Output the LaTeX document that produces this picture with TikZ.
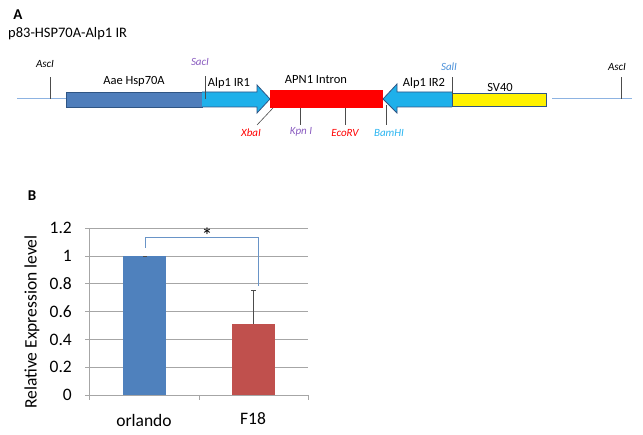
\documentclass[tikz,border=0pt]{standalone}
\usepackage{fontspec}
\setmainfont{Carlito}
\usepackage{xcolor}
\usepackage{tikz}
\usetikzlibrary{positioning}

\definecolor{hspblue}{HTML}{4F7EBB}
\definecolor{irblue}{HTML}{1EB0EA}
\definecolor{edgeblue}{HTML}{2F5584}
\definecolor{backbone}{HTML}{8DB3E2}
\definecolor{sitepurple}{HTML}{8A5CC0}
\definecolor{siteblue}{HTML}{4A90D9}
\definecolor{sitecyan}{HTML}{2BB5F0}
\definecolor{barblue}{HTML}{4F81BD}
\definecolor{barred}{HTML}{C0504D}
\definecolor{gridgrey}{HTML}{A6A6A6}

\tikzset{
  lbl/.style={inner sep=0pt,font=\fontsize{12.5}{13}\selectfont},
  site/.style={inner sep=0pt,font=\fontsize{11}{12}\selectfont\itshape},
  cut/.style={draw=black!70,line width=0.6pt},
  tlbl/.style={inner sep=0pt,font=\fontsize{17.5}{18}\selectfont}
}

\begin{document}
\begin{tikzpicture}[x=1pt,y=-1pt]
    \useasboundingbox (0,0) rectangle (643,435);

    % panel A
    \node[inner sep=0pt,font=\fontsize{15}{16}\selectfont\bfseries] (labA) at (18,15) {A};
    \node[inner sep=0pt,anchor=west,font=\fontsize{14.5}{16}\selectfont] (title) at (8,34) {p83-HSP70A-Alp1 IR};

    \draw[backbone,line width=1pt] (17,99)--(66,99);
    \draw[backbone,line width=1pt] (552,99)--(632,99);

    \fill[hspblue] (66,92) rectangle (202,107);
    \draw[edgeblue,line width=0.8pt] (66,92) rectangle (202,107);

    \fill[irblue] (202,92)--(257,92)--(257,85)--(270,99)--(257,113)--(257,107)--(202,107)--cycle;
    \draw[edgeblue,line width=0.8pt] (202,92)--(257,92)--(257,85)--(270,99)--(257,113)--(257,107)--(202,107);

    \fill[red] (270,90) rectangle (383,108);

    \fill[irblue] (452,92)--(397,92)--(397,84)--(383,99)--(397,113)--(397,107)--(452,107)--cycle;
    \draw[edgeblue,line width=0.8pt] (452,92)--(397,92)--(397,84)--(383,99)--(397,113)--(397,107)--(452,107);

    \fill[yellow] (452,93) rectangle (546,106);
    \draw[edgeblue,line width=0.8pt] (452,93) rectangle (546,106);

    \node[lbl] (hsp) at (134,81) {Aae Hsp70A};
    \node[lbl] (ir1) at (229,83) {Alp1 IR1};
    \node[lbl] (intron) at (316,80) {APN1 Intron};
    \node[lbl] (ir2) at (424,83) {Alp1 IR2};
    \node[lbl] (sv40) at (500,87) {SV40};

    % restriction sites
    \node[site] (ascL) at (45,64) {AscI};
    \node[site,text=sitepurple] (sacI) at (200,62) {SacI};
    \node[site,text=siteblue] (salI) at (449,67) {SalI};
    \node[site] (ascR) at (617,67) {AscI};
    \node[site,text=red] (xbaI) at (251,133) {XbaI};
    \node[site,text=sitepurple] (kpnI) at (301,132) {Kpn I};
    \node[site,text=red] (ecoRV) at (345,133) {EcoRV};
    \node[site,text=sitecyan] (bamHI) at (389,133) {BamHI};

    \coordinate (cAscL) at (50,99);
    \coordinate (cSacI) at (205,99);
    \coordinate (cSalI) at (452,99);
    \coordinate (cAscR) at (621,99);
    \coordinate (cXbaI) at (273,108);
    \coordinate (cKpnI) at (300,108);
    \coordinate (cEcoRV) at (345,108);
    \coordinate (cBamHI) at (386,105);

    \draw[cut] (cAscL) -- ++(0,-22);
    \draw[cut] (cSacI) -- ++(0,-23);
    \draw[cut] (cSalI) -- ++(0,-22);
    \draw[cut] (cAscR) -- ++(0,-22);
    \draw[cut] (cXbaI) -- ++(-16,17);
    \draw[cut] (cKpnI) -- ++(0,17);
    \draw[cut] (cEcoRV) -- ++(0,17);
    \draw[cut] (cBamHI) -- ++(0,20);

    % panel B
    \node[inner sep=0pt,font=\fontsize{15}{16}\selectfont\bfseries] (labB) at (32,196) {B};

    \foreach \v/\t in {0/0,0.2/0.2,0.4/0.4,0.6/0.6,0.8/0.8,1/1,1.2/1.2} {
        \draw[gridgrey,line width=0.7pt] (85,395-139*\v)--(308,395-139*\v);
        \node[tlbl,anchor=east] at (72,395-139*\v) {\t};
    }
    \draw[gridgrey,line width=0.7pt] (89,228)--(89,400);
    \draw[gridgrey,line width=0.7pt] (199,395)--(199,400) (308,395)--(308,400);

    \fill[barblue] (123,395) rectangle (166,256);
    \fill[barred] (232,395) rectangle (275,324);

    \draw[black!70,line width=0.6pt] (143,256)--(147,256);
    \draw[black!70,line width=0.6pt] (253.5,324)--(253.5,290) (251,290)--(256,290);

    \draw[barblue!85,line width=0.7pt] (145,248)--(145,237)--(258,237)--(258,286);
    \node[inner sep=0pt,font=\fontsize{22}{22}\selectfont] (star) at (207,236) {*};

    \node[tlbl,rotate=90] (ylab) at (32,322) {Relative Expression level};
    \node[tlbl] (orl) at (144,420) {orlando};
    \node[tlbl] (f18) at (253,419) {F18};
\end{tikzpicture}
\end{document}
